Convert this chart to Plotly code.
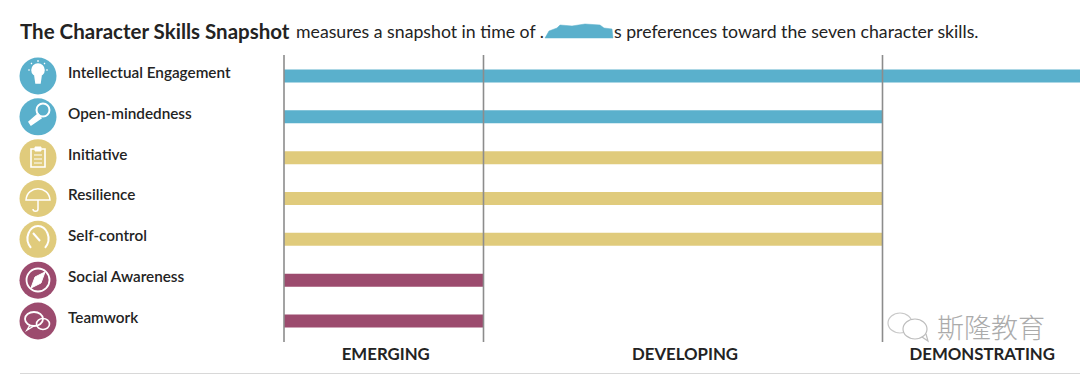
import re
import plotly.graph_objects as go

categories = ["Intellectual Engagement", "Open-mindedness", "Initiative", "Resilience",
              "Self-control", "Social Awareness", "Teamwork"]
scores = [4, 3, 3, 3, 3, 1, 1]
groups = ["blue", "blue", "gold", "gold", "gold", "plum", "plum"]
palette = {"blue": "#5AB0CC", "gold": "#E0CB7C", "plum": "#9C4B6E"}
band_edges = [0, 1, 3]
band_centers = [0.51, 2.01, 3.5]
band_labels = ["EMERGING", "DEVELOPING", "DEMONSTRATING"]

W, H = 1080, 374
L, R, T, B = 0, 1080, 55, 342
ZERO_PX = 284
FONT = "Lato, 'Open Sans', sans-serif"
INK = "#232323"
ROW = 40.83
UNIT = 199.5
FIRST_ROW_PX = 76


def px(x):
    return (x - L) / (R - L)


def py(y):
    return (B - y) / (B - T)


def path(d):
    """Convert an SVG path given in page pixels to paper coordinates."""
    toks = re.findall(r"[MLCQZ]|-?\d+\.?\d*", d)
    out, is_x = [], True
    for t in toks:
        if t in "MLCQZ":
            out.append(t)
            is_x = True
        else:
            v = float(t)
            out.append(f"{px(v) if is_x else py(v):.5f}")
            is_x = not is_x
    return " ".join(out)


def shp(d, color="white", width=1.6, fill=None):
    return dict(type="path", xref="paper", yref="paper", path=path(d),
                line=dict(color=color, width=width),
                fillcolor=fill if fill else "rgba(0,0,0,0)", layer="above")


def ell(cx, cy, rx, ry, **kw):
    k = 0.5523
    return shp(f"M {cx-rx} {cy} C {cx-rx} {cy-k*ry} {cx-k*rx} {cy-ry} {cx} {cy-ry} "
               f"C {cx+k*rx} {cy-ry} {cx+rx} {cy-k*ry} {cx+rx} {cy} "
               f"C {cx+rx} {cy+k*ry} {cx+k*rx} {cy+ry} {cx} {cy+ry} "
               f"C {cx-k*rx} {cy+ry} {cx-rx} {cy+k*ry} {cx-rx} {cy} Z", **kw)


shapes = []
# band dividers
for e in band_edges:
    shapes.append(dict(type="line", xref="x", yref="paper", x0=e, x1=e, y0=0, y1=1,
                       line=dict(color="#8C8C8C", width=1.6), layer="above"))
# rule under the chart
shapes.append(dict(type="line", xref="paper", yref="paper", x0=px(20), x1=px(1080),
                   y0=py(373.5), y1=py(373.5), line=dict(color="#D8D8D8", width=1), layer="above"))
# redaction stroke in the sentence
shapes.append(shp("M 545 38 L 549 31 L 557 28 L 560 25 L 572 26 L 585 24 L 600 25 L 604 28 L 612 29 L 613 38 L 580 38 Z",
                  color="#5AB0CC", width=0.5, fill="#5AB0CC"))

# icons: bulb
shapes += [ell(38, 70, 6, 6, fill="white"),
           shp("M 35 76 L 41 76 L 40 83 L 36 83 Z", fill="white"),
           shp("M 38 60 L 38 62 M 28 70 L 30 70 M 46 70 L 48 70 M 31 63 L 32 64 M 45 63 L 44 64", width=1.2)]
# key / magnifier
shapes += [ell(43, 110, 6.5, 6.5, width=2),
           shp("M 38 114 L 29 122 L 31 125 L 41 118 Z", fill="white", width=1.5)]
# clipboard
shapes += [shp("M 31 149 L 45 149 L 45 167 L 31 167 Z", width=1.6),
           shp("M 35 147 L 41 147 L 41 151 L 35 151 Z", fill="white", width=1),
           shp("M 34 155 L 42 155 M 34 159 L 42 159 M 34 163 L 42 163", width=1)]
# umbrella
shapes += [shp("M 26 200 C 27 185 49 185 50 200 Z", width=1.5),
           shp("M 38 200 L 38 209 C 38 212 33 212 33 209", width=1.5)]
# gauge
shapes += [shp("M 31 248 C 23 238 30 226 38 226 C 46 226 53 238 45 248", width=2),
           shp("M 33 233 L 40 241", width=2)]
# compass
shapes += [ell(38, 280, 11.5, 11.5, width=1.8),
           shp("M 45 272 L 41 283 L 31 288 L 35 277 Z", fill="white", width=1)]
# chat bubbles
shapes += [ell(34, 319, 9, 7, width=1.8), ell(43, 324, 6.5, 5.5, width=1.6),
           shp("M 30 325 L 27 330 L 34 326", width=1.4)]
# watermark bubbles
shapes += [ell(900, 323, 12, 10, color="#C9C9C9", width=1.2, fill="white"),
           ell(915, 329, 12, 10, color="#BDBDBD", width=1.2, fill="white"),
           shp("M 922 337 L 928 341 L 926 334", color="#BDBDBD", width=1.2)]

fig = go.Figure()
fig.add_trace(go.Bar(
    y=categories, x=scores, orientation="h", width=13 / ROW,
    marker=dict(color=[palette[g] for g in groups], line=dict(width=0)),
    hoverinfo="skip", showlegend=False,
))
fig.add_trace(go.Scatter(
    y=categories, x=[(38 - ZERO_PX) / UNIT] * len(categories), mode="markers",
    marker=dict(size=37, color=[palette[g] for g in groups], line=dict(width=0)),
    hoverinfo="skip", showlegend=False,
))

ann = []
for i, c in enumerate(categories):
    ann.append(dict(x=px(66), xref="paper", y=c, yref="y", yshift=4, text=c, showarrow=False,
                    xanchor="left", yanchor="middle",
                    font=dict(family=FONT, size=15.3, color=INK, weight=600)))


def page_text(x, y, text, size, weight=400, color=INK, family=FONT):
    return dict(x=px(x), y=py(y), xref="paper", yref="paper", text=text, showarrow=False,
                xanchor="left", yanchor="middle", xshift=0,
                font=dict(family=family, size=size, color=color, weight=weight))


ann.append(page_text(18, 31, "The Character Skills Snapshot", 20.5, 700))
ann.append(page_text(294, 32, "measures a snapshot in time of .", 17.7))
ann.append(page_text(612, 32, "s preferences toward the seven character skills.", 17.7))
ann.append(page_text(935, 326, "斯隆教育", 27, 300, "#ABABAB", "'Noto Sans CJK SC'"))

fig.update_layout(
    width=W, height=H, margin=dict(l=L, r=W - R, t=T, b=H - B),
    paper_bgcolor="white", plot_bgcolor="white", barmode="overlay",
    shapes=shapes, annotations=ann, showlegend=False,
    xaxis=dict(range=[(L - ZERO_PX) / UNIT, (R - ZERO_PX) / UNIT], showgrid=False, zeroline=False,
               showline=False, ticks="", tickmode="array", tickvals=band_centers, ticktext=band_labels,
               tickfont=dict(family=FONT, size=16.8, color=INK, weight=700)),
    yaxis=dict(type="category", categoryorder="array", categoryarray=categories,
               range=[(B - FIRST_ROW_PX) / ROW, (T - FIRST_ROW_PX) / ROW],
               showticklabels=False, showgrid=False, zeroline=False, showline=False, ticks=""),
)

fig.write_html("out.html", config=dict(displayModeBar=False),
               post_script="document.body.style.margin='0';document.documentElement.style.overflow='hidden';")
